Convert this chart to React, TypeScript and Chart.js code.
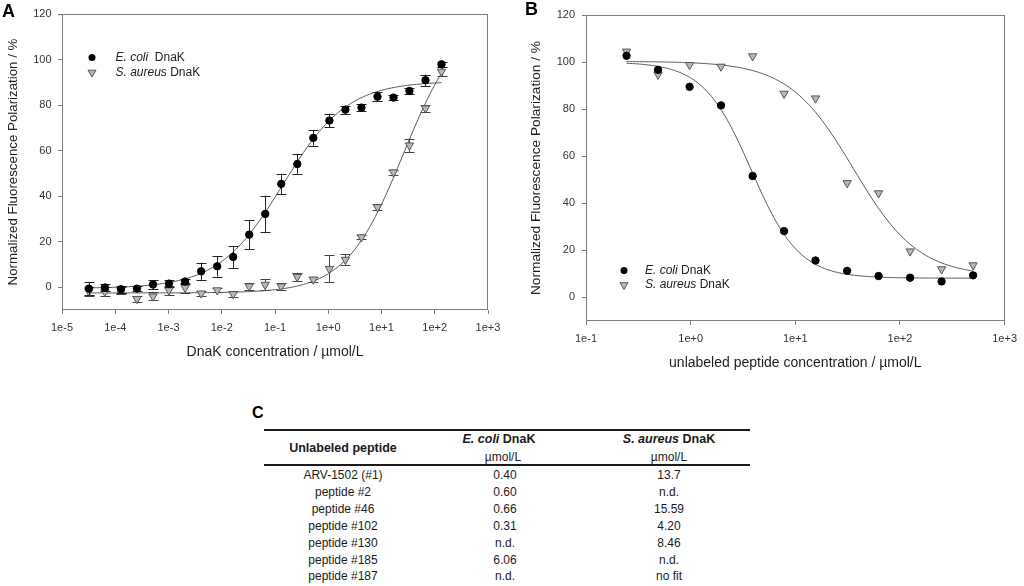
import React, { useEffect, useRef } from 'react';
import { Chart, registerables } from 'chart.js';

Chart.register(...registerables);

const FONT = '"Liberation Sans", Arial, Helvetica, sans-serif';
Chart.defaults.font.family = FONT;

// ---------- Panel A data ----------
const concA = [3.2e-5, 6.4e-5, 1.28e-4, 2.56e-4, 5.12e-4, 1.02e-3, 2.05e-3, 4.1e-3, 8.2e-3, 0.0164, 0.0328, 0.0655, 0.131, 0.262, 0.524, 1.05, 2.1, 4.2, 8.4, 16.8, 33.5, 67, 134];
const ecoliA = [-0.6, -0.1, -0.9, -0.6, 1.2, 1.6, 2.5, 7.0, 9.2, 13.3, 23.1, 32.2, 45.4, 54.1, 65.6, 73.2, 78.0, 78.9, 83.7, 83.3, 86.2, 90.9, 97.9];
const ecoliAErr = [3, 1.5, 1.5, 1, 2, 1.5, 1, 3.8, 4.5, 4.8, 6.4, 8, 4.5, 4.2, 3.4, 3, 1.8, 1.5, 2, 1, 1.2, 2.5, 1.2];
const aureusA = [-1.8, -2.0, -1.3, -5.1, -4.0, -1.3, -0.2, -2.7, -1.3, -3.0, 0.4, 1.1, 0.4, 4.6, 3.4, 8.1, 12.1, 22.0, 35.2, 50.5, 62.3, 78.6, 94.7];
const aureusAErr = [2, 2, 1.5, 1.3, 1.8, 2, 2.2, 1, 1, 1.2, 1.6, 2.3, 1.4, 1.8, 1, 6, 2.5, 1, 1.2, 1, 3, 1.5, 2];

// ---------- Panel B data ----------
const concB = [0.244, 0.488, 0.977, 1.95, 3.91, 7.81, 15.6, 31.3, 62.5, 125, 250, 500];
const ecoliB = [102.7, 96.7, 89.5, 81.6, 51.6, 28.2, 15.7, 11.3, 9.1, 8.4, 6.8, 9.4];
const aureusB = [104.5, 94.7, 98.8, 98.1, 102.5, 86.6, 84.6, 48.6, 44.3, 19.6, 12.0, 13.7];

// ---------- fit parameters (4-parameter logistic) ----------
type Fit = { bottom: number; top: number; mid: number; hill: number };
const fitEcoliA: Fit = { bottom: -0.5, top: 90.5, mid: 0.14, hill: -0.72 };
const fitAureusA: Fit = { bottom: -2.5, top: 120, mid: 26, hill: -0.8 };
const fitEcoliB: Fit = { bottom: 8.2, top: 100, mid: 3.8, hill: 1.9 };
const fitAureusB: Fit = { bottom: 9, top: 100.3, mid: 36, hill: 1.4 };

// ---------- ticks ----------
const xTicksA = [1e-5, 1e-4, 1e-3, 1e-2, 1e-1, 1, 10, 100, 1000];
const xTickLabelsA = ['1e-5', '1e-4', '1e-3', '1e-2', '1e-1', '1e+0', '1e+1', '1e+2', '1e+3'];
const xTicksB = [0.1, 1, 10, 100, 1000];
const xTickLabelsB = ['1e-1', '1e+0', '1e+1', '1e+2', '1e+3'];
const yTicks = [0, 20, 40, 60, 80, 100, 120];

// ---------- table ----------
const tableRows = [
  ['ARV-1502 (#1)', '0.40', '13.7'],
  ['peptide #2', '0.60', 'n.d.'],
  ['peptide #46', '0.66', '15.59'],
  ['peptide #102', '0.31', '4.20'],
  ['peptide #130', 'n.d.', '8.46'],
  ['peptide #185', '6.06', 'n.d.'],
  ['peptide #187', 'n.d.', 'no fit'],
];

function logistic(f: Fit, x: number) {
  return f.bottom + (f.top - f.bottom) / (1 + Math.pow(x / f.mid, f.hill));
}
function fitCurve(f: Fit, xs: number[]) {
  const lo = Math.log10(xs[0]);
  const hi = Math.log10(xs[xs.length - 1]);
  const n = 240;
  const pts: { x: number; y: number }[] = [];
  for (let i = 0; i <= n; i++) {
    const x = Math.pow(10, lo + ((hi - lo) * i) / n);
    pts.push({ x, y: logistic(f, x) });
  }
  return pts;
}

const frameBox = {
  id: 'frameBox',
  beforeDatasetsDraw(chart: any) {
    const { ctx, chartArea: a } = chart;
    ctx.save();
    ctx.strokeStyle = '#7c7c7c';
    ctx.lineWidth = 1;
    const l = Math.round(a.left) + 0.5;
    const t = Math.round(a.top) + 0.5;
    const r = Math.round(a.right) - 0.5;
    const b = Math.round(a.bottom) - 0.5;
    ctx.strokeRect(l, t, r - l, b - t);
    ctx.restore();
  },
};

const errorBars = {
  id: 'errorBars',
  beforeDatasetDraw(chart: any, args: any) {
    const ds: any = chart.data.datasets[args.index];
    if (!ds.errors) return;
    const { ctx } = chart;
    const ys = chart.scales.y;
    ctx.save();
    ctx.strokeStyle = ds.errorColor;
    ctx.lineWidth = 1;
    args.meta.data.forEach((el: any, j: number) => {
      const v = ds.data[j].y;
      const e = ds.errors[j];
      const x = Math.round(el.x) + 0.5;
      const t = ys.getPixelForValue(v + e);
      const b = ys.getPixelForValue(v - e);
      ctx.beginPath();
      ctx.moveTo(x, t);
      ctx.lineTo(x, b);
      ctx.moveTo(x - 5, Math.round(t) + 0.5);
      ctx.lineTo(x + 5, Math.round(t) + 0.5);
      ctx.moveTo(x - 5, Math.round(b) + 0.5);
      ctx.lineTo(x + 5, Math.round(b) + 0.5);
      ctx.stroke();
    });
    ctx.restore();
  },
};

function legendPlugin(cfg: { x: number; y: number; gap: number; textX: number; firstGap: string }) {
  return {
    id: 'customLegend',
    afterDraw(chart: any) {
      const { ctx } = chart;
      const items = [
        { marker: 'circle', italic: 'E. coli', normal: cfg.firstGap + 'DnaK' },
        { marker: 'triangle', italic: 'S. aureus', normal: ' DnaK' },
      ];
      ctx.save();
      items.forEach((it, k) => {
        const y = cfg.y + k * cfg.gap;
        if (it.marker === 'circle') {
          ctx.beginPath();
          ctx.arc(cfg.x, y, 3.5, 0, Math.PI * 2);
          ctx.fillStyle = '#000';
          ctx.fill();
        } else {
          const r = 4.6;
          ctx.beginPath();
          ctx.moveTo(cfg.x - r * 0.866, y - r * 0.5);
          ctx.lineTo(cfg.x + r * 0.866, y - r * 0.5);
          ctx.lineTo(cfg.x, y + r);
          ctx.closePath();
          ctx.fillStyle = '#b8b8b8';
          ctx.fill();
          ctx.strokeStyle = '#555';
          ctx.lineWidth = 1;
          ctx.stroke();
        }
        ctx.fillStyle = '#222';
        ctx.textBaseline = 'middle';
        ctx.textAlign = 'left';
        ctx.font = `italic 12px ${FONT}`;
        ctx.fillText(it.italic, cfg.textX, y);
        const w = ctx.measureText(it.italic).width;
        ctx.font = `12px ${FONT}`;
        ctx.fillText(it.normal, cfg.textX + w, y);
      });
      ctx.restore();
    },
  };
}

type PanelCfg = {
  width: number;
  height: number;
  padTop: number;
  padRight: number;
  yWidth: number;
  xHeight: number;
  xMin: number;
  xMax: number;
  xTicks: number[];
  xTickLabels: string[];
  xTitle: string;
  xTitlePad: number;
  yTitleSize: number;
  yTitlePad: number;
  yTickPad: number;
  conc: number[];
  ecoli: number[];
  aureus: number[];
  ecoliErr?: number[];
  aureusErr?: number[];
  fitE: Fit;
  fitS: Fit;
  legend: { x: number; y: number; gap: number; textX: number; firstGap: string };
};

function Panel({ cfg, left }: { cfg: PanelCfg; left: number }) {
  const ref = useRef<HTMLCanvasElement | null>(null);
  useEffect(() => {
    if (!ref.current) return;
    const ds: any[] = [
      {
        label: 'E. coli DnaK',
        data: cfg.conc.map((x, i) => ({ x, y: cfg.ecoli[i] })),
        pointStyle: 'circle',
        pointRadius: 3.7,
        backgroundColor: '#000',
        borderColor: '#000',
        borderWidth: 1,
        errors: cfg.ecoliErr,
        errorColor: '#222',
      },
      {
        label: 'S. aureus DnaK',
        data: cfg.conc.map((x, i) => ({ x, y: cfg.aureus[i] })),
        pointStyle: 'triangle',
        pointRotation: 180,
        pointRadius: 4.8,
        backgroundColor: '#b8b8b8',
        borderColor: '#555',
        borderWidth: 1,
        errors: cfg.aureusErr,
        errorColor: '#444',
      },
      {
        label: 'fit E',
        data: fitCurve(cfg.fitE, cfg.conc),
        showLine: true,
        pointRadius: 0,
        borderColor: '#555',
        borderWidth: 1,
        tension: 0,
      },
      {
        label: 'fit S',
        data: fitCurve(cfg.fitS, cfg.conc),
        showLine: true,
        pointRadius: 0,
        borderColor: '#555',
        borderWidth: 1,
        tension: 0,
      },
    ];
    const chart = new Chart(ref.current, {
      type: 'scatter',
      data: { datasets: ds },
      options: {
        responsive: false,
        animation: false,
        events: [],
        layout: { padding: { top: cfg.padTop, right: cfg.padRight, left: 0, bottom: 0 } },
        plugins: { legend: { display: false }, tooltip: { enabled: false } },
        scales: {
          x: {
            type: 'logarithmic',
            min: cfg.xMin,
            max: cfg.xMax,
            afterBuildTicks: (s: any) => {
              s.ticks = cfg.xTicks.map((v) => ({ value: v }));
            },
            afterFit: (s: any) => {
              s.height = cfg.xHeight;
            },
            ticks: {
              callback: (_v: any, i: number) => cfg.xTickLabels[i],
              autoSkip: false,
              maxRotation: 0,
              padding: 7,
              color: '#333',
              font: { size: 11 },
            },
            grid: { drawOnChartArea: false, drawTicks: true, tickLength: 4, tickColor: '#7c7c7c', color: '#7c7c7c' },
            border: { display: false },
            title: {
              display: true,
              text: cfg.xTitle,
              color: '#1e1e1e',
              font: { size: 14 },
              padding: { top: 0, bottom: cfg.xTitlePad },
            },
          },
          y: {
            type: 'linear',
            min: -10,
            max: 120,
            afterBuildTicks: (s: any) => {
              s.ticks = yTicks.map((v) => ({ value: v }));
            },
            afterFit: (s: any) => {
              s.width = cfg.yWidth;
            },
            ticks: { padding: cfg.yTickPad, color: '#333', font: { size: 11 } },
            grid: { drawOnChartArea: false, drawTicks: true, tickLength: 4, tickColor: '#7c7c7c', color: '#7c7c7c' },
            border: { display: false },
            title: {
              display: true,
              text: 'Normalized Fluorescence Polarization / %',
              color: '#1e1e1e',
              font: { size: cfg.yTitleSize },
              padding: { top: cfg.yTitlePad, bottom: 0 },
            },
          },
        },
      } as any,
      plugins: [frameBox, errorBars, legendPlugin(cfg.legend)] as any,
    });
    return () => chart.destroy();
  }, [cfg]);
  return (
    <canvas
      ref={ref}
      width={cfg.width}
      height={cfg.height}
      style={{ position: 'absolute', left, top: 0, width: cfg.width, height: cfg.height }}
    />
  );
}

const cfgA: PanelCfg = {
  width: 510,
  height: 380,
  padTop: 14,
  padRight: 22,
  yWidth: 62,
  xHeight: 70,
  xMin: 1e-5,
  xMax: 1e3,
  xTicks: xTicksA,
  xTickLabels: xTickLabelsA,
  xTitle: 'DnaK concentration / µmol/L',
  xTitlePad: 19.6,
  yTitleSize: 13.3,
  yTitlePad: 5,
  yTickPad: 6.5,
  conc: concA,
  ecoli: ecoliA,
  aureus: aureusA,
  ecoliErr: ecoliAErr,
  aureusErr: aureusAErr,
  fitE: fitEcoliA,
  fitS: fitAureusA,
  legend: { x: 92, y: 57.5, gap: 15, textX: 115.5, firstGap: '  ' },
};

const cfgB: PanelCfg = {
  width: 504,
  height: 380,
  padTop: 15,
  padRight: 15,
  yWidth: 66,
  xHeight: 59,
  xMin: 0.1,
  xMax: 1000,
  xTicks: xTicksB,
  xTickLabels: xTickLabelsB,
  xTitle: 'unlabeled peptide concentration / µmol/L',
  xTitlePad: 8.3,
  yTitleSize: 13.7,
  yTitlePad: 8.5,
  yTickPad: 7,
  conc: concB,
  ecoli: ecoliB,
  aureus: aureusB,
  fitE: fitEcoliB,
  fitS: fitAureusB,
  legend: { x: 104, y: 270.5, gap: 14.5, textX: 125, firstGap: ' ' },
};

const colCenters = [343, 505, 669];
const rowTop0 = 475;
const rowStep = 16.9;

function Cell({ cx, cy, children, style }: { cx: number; cy: number; children: React.ReactNode; style?: React.CSSProperties }) {
  return (
    <div
      style={{
        position: 'absolute',
        left: cx - 110,
        width: 220,
        top: cy - 8,
        height: 16,
        lineHeight: '16px',
        textAlign: 'center',
        whiteSpace: 'pre',
        fontSize: 12,
        color: '#1a1a1a',
        ...style,
      }}
    >
      {children}
    </div>
  );
}

export default function App() {
  useEffect(() => {
    document.body.style.margin = '0';
  }, []);
  return (
    <div
      style={{
        position: 'absolute',
        left: 0,
        top: 0,
        width: 1024,
        height: 586,
        background: '#fff',
        overflow: 'hidden',
        fontFamily: FONT,
      }}
    >
      <Panel cfg={cfgA} left={0} />
      <Panel cfg={cfgB} left={520} />
      <div style={{ position: 'absolute', left: 2, top: 2, fontSize: 18, lineHeight: '18px', fontWeight: 'bold' }}>A</div>
      <div style={{ position: 'absolute', left: 525, top: 0, fontSize: 18, lineHeight: '18px', fontWeight: 'bold' }}>B</div>
      <div style={{ position: 'absolute', left: 252, top: 405, fontSize: 16, lineHeight: '16px', fontWeight: 'bold' }}>C</div>

      <div style={{ position: 'absolute', left: 264, width: 486, top: 428.5, height: 2, background: '#1a1a1a' }} />
      <div style={{ position: 'absolute', left: 264, width: 486, top: 463.5, height: 2, background: '#1a1a1a' }} />

      <Cell cx={colCenters[0]} cy={448} style={{ fontWeight: 'bold', fontSize: 12.5 }}>Unlabeled peptide</Cell>
      <Cell cx={499} cy={439} style={{ fontWeight: 'bold', fontSize: 12.5 }}>
        <i>E. coli</i> DnaK
      </Cell>
      <Cell cx={503} cy={457}>µmol/L</Cell>
      <Cell cx={colCenters[2]} cy={439} style={{ fontWeight: 'bold', fontSize: 12.5 }}>
        <i>S. aureus</i> DnaK
      </Cell>
      <Cell cx={colCenters[2]} cy={457}>µmol/L</Cell>

      {tableRows.map((row, r) =>
        row.map((txt, c) => (
          <Cell key={`${r}-${c}`} cx={colCenters[c]} cy={rowTop0 + r * rowStep}>
            {txt}
          </Cell>
        ))
      )}
    </div>
  );
}
